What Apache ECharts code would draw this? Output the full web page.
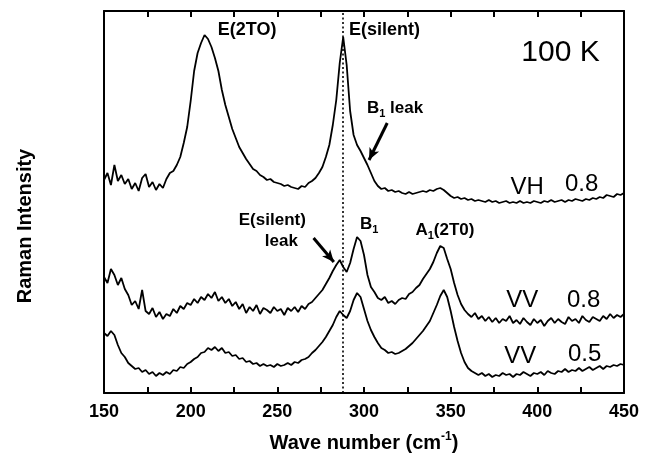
<!DOCTYPE html>
<html><head><meta charset="utf-8">
<script src="https://cdn.jsdelivr.net/npm/echarts@6/dist/echarts.min.js"></script>
<style>html,body{margin:0;padding:0;background:#fff}#c{width:657px;height:465px}</style>
</head><body><div id="c"></div>
<script>
const waveNumbers = [150,152,154,156,158,160,162,164,166,168,170,172,174,176,178,180,182,184,186,188,190,192,194,196,198,200,202,204,206,208,210,212,214,216,218,220,222,224,226,228,230,232,234,236,238,240,242,244,246,248,250,252,254,256,258,260,262,264,266,268,270,272,274,276,278,280,282,284,286,288,290,292,294,296,298,300,302,304,306,308,310,312,314,316,318,320,322,324,326,328,330,332,334,336,338,340,342,344,346,348,350,352,354,356,358,360,362,364,366,368,370,372,374,376,378,380,382,384,386,388,390,392,394,396,398,400,402,404,406,408,410,412,414,416,418,420,422,424,426,428,430,432,434,436,438,440,442,444,446,448,450];

const vhValues = [213,220,208,228,212,218,209,214,204,210,202,215,219,206,211,203,209,205,214,220,222,228,236,250,266,292,322,340,350,358,354,346,335,322,303,288,276,264,255,246,240,234,229,224,222,218,216,213,214,211,210,209,207,208,206,205,204,207,206,210,212,215,220,226,236,248,268,293,330,356,328,282,258,248,242,235,228,220,212,207,204,205,202,203,201,202,200,199,201,199,200,201,202,201,203,202,204,205,203,200,197,195,196,194,195,193,194,192,193,192,191,193,191,192,190,191,192,190,191,190,192,190,191,190,192,191,190,192,191,193,191,192,193,191,193,192,194,193,192,194,193,195,194,196,195,198,197,196,199,198,200];

const vv08Values = [116,110,124,118,108,115,104,98,88,92,84,103,82,79,85,76,81,74,79,77,84,80,87,84,90,88,94,90,96,93,99,95,101,92,96,90,94,87,91,84,89,80,86,82,88,79,85,83,80,86,82,84,78,85,82,86,81,87,84,89,91,95,99,103,109,115,122,128,133,126,121,130,144,156,152,138,118,106,101,95,93,96,90,92,89,93,95,94,99,101,105,108,114,119,124,131,140,147,145,134,124,110,98,89,83,79,76,80,74,77,72,76,71,75,70,74,72,77,70,73,69,75,71,68,74,70,73,67,72,75,70,74,71,69,76,72,74,70,77,73,71,76,74,72,77,74,79,75,78,76,79];

const vv05Values = [60,57,62,58,48,40,36,30,27,24,25,21,23,19,21,17,20,18,21,19,23,22,26,25,29,31,34,36,40,41,45,43,46,42,45,40,41,37,38,34,35,31,32,29,30,27,29,27,28,26,29,27,28,30,28,31,30,33,34,36,40,43,47,51,56,62,68,76,82,78,75,82,93,100,96,84,72,63,56,50,45,43,40,41,39,40,42,44,47,50,54,58,62,67,72,80,88,97,103,96,82,66,52,40,31,25,22,20,18,20,17,19,16,18,17,20,18,19,16,19,18,21,19,17,20,19,21,18,22,20,19,22,21,24,21,23,22,25,22,24,26,23,25,27,24,27,26,28,27,29,28];

const xTicks = [150,200,250,300,350,400,450];
const tickMarks = [175,200,225,250,275,300,325,350,375,400,425];
const dottedLineAt = 288;
const Y_MIN = 0, Y_MAX = 382, TICK_LEN = 6;

const FONT = 'Liberation Sans, Arial, Helvetica, sans-serif';
const chart = echarts.init(document.getElementById('c'));

function pairs(vals){ return waveNumbers.map((x,i)=>[x, vals[i]]); }

const lineBase = {type:'line', showSymbol:false, symbol:'none', animation:false,
  lineStyle:{color:'#000', width:1.8}, itemStyle:{color:'#000'}};

function xAx(pos, labels){
  return {
    type:'value', min:150, max:450, interval:25, position:pos,
    axisLine:{show:true, onZero:false, lineStyle:{color:'#000', width:2}},
    axisTick:{show:false}, minorTick:{show:false}, splitLine:{show:false},
    axisLabel:{show:labels, color:'#000', fontSize:18, fontWeight:'bold', fontFamily:FONT, margin:10,
      formatter:v=> xTicks.includes(v)? String(v):''}
  };
}

const xBottom = xAx('bottom', true);
Object.assign(xBottom, {
  name:'{a|Wave number (cm}{s|-1}{a|)}', nameLocation:'middle', nameGap:38,
  nameTextStyle:{rich:{
    a:{fontSize:20, fontWeight:'bold', fontFamily:FONT, color:'#000', lineHeight:24},
    s:{fontSize:12, fontWeight:'bold', fontFamily:FONT, color:'#000', verticalAlign:'top', lineHeight:24, padding:[0,0,10,0]}
  }}
});

const yLeft = {type:'value', min:Y_MIN, max:Y_MAX, position:'left',
  axisLine:{show:true, lineStyle:{color:'#000', width:2}},
  axisTick:{show:false}, axisLabel:{show:false}, splitLine:{show:false}};
const yRight = Object.assign({}, yLeft, {position:'right'});

// frame ticks drawn as short markLine segments in data coordinates
const tickSegments = [];
tickMarks.forEach(v=>{
  tickSegments.push([{coord:[v, Y_MIN]},{coord:[v, Y_MIN + TICK_LEN]}]);
  tickSegments.push([{coord:[v, Y_MAX]},{coord:[v, Y_MAX - TICK_LEN]}]);
});

chart.setOption({
  animation:false,
  grid:{left:104, right:33, top:11, bottom:72},
  xAxis:[xBottom, xAx('top', false)],
  yAxis:[yLeft, yRight],
  series:[
    Object.assign({}, lineBase, {name:'VH', data:pairs(vhValues),
      markLine:{silent:true, symbol:'none', animation:false, label:{show:false},
        lineStyle:{color:'#000', width:1.6, type:[2,2.5]},
        data:[{xAxis:dottedLineAt}]}}),
    Object.assign({}, lineBase, {name:'VV08', data:pairs(vv08Values),
      markLine:{silent:true, symbol:'none', animation:false, label:{show:false},
        lineStyle:{color:'#000', width:2, type:'solid'},
        data:tickSegments}}),
    Object.assign({}, lineBase, {name:'VV05', data:pairs(vv05Values),
      markLine:{silent:true, animation:false, symbol:['none','arrow'], symbolSize:[8,12],
        label:{show:false}, lineStyle:{color:'#000', width:3, type:'solid'},
        data:[
          [{coord:[313.4,270]},{coord:[302.9,233]}],
          [{coord:[270.9,155]},{coord:[282.6,131]}]
        ]}})
  ]
});

const notes = [
  {at:[232.6,363], text:'{a|E(2TO)}', align:'center'},
  {at:[291.3,363], text:'{a|E(silent)}', align:'left'},
  {at:[413.4,340], text:'{c|100 K}', align:'center'},
  {at:[301.7,285], text:'{d|B}{s|1}{d| leak}', align:'left'},
  {at:[394.2,206], text:'{b|VH}', align:'center'},
  {at:[425.6,209], text:'{b|0.8}', align:'center'},
  {at:[247.1,173], text:'{d|E(silent)}', align:'center'},
  {at:[252.3,152], text:'{d|leak}', align:'center'},
  {at:[297.7,169], text:'{d|B}{s|1}', align:'left'},
  {at:[329.7,163], text:'{d|A}{s|1}{d|(2T0)}', align:'left'},
  {at:[391.3,93], text:'{b|VV}', align:'center'},
  {at:[426.7,93], text:'{b|0.8}', align:'center'},
  {at:[390.1,37], text:'{b|VV}', align:'center'},
  {at:[427.3,39], text:'{b|0.5}', align:'center'}
];
const rich = {
  a:{fontSize:18, fontWeight:'bold', fontFamily:FONT, fill:'#000', color:'#000', lineHeight:22},
  d:{fontSize:17, fontWeight:'bold', fontFamily:FONT, fill:'#000', color:'#000', lineHeight:22},
  b:{fontSize:24, fontFamily:FONT, fill:'#000', color:'#000', lineHeight:28},
  c:{fontSize:30, fontFamily:FONT, fill:'#000', color:'#000', lineHeight:34},
  s:{fontSize:11, fontWeight:'bold', fontFamily:FONT, fill:'#000', color:'#000', lineHeight:22, verticalAlign:'bottom', padding:[9,0,0,0]}
};
const g = notes.map(n=>{
  const p = chart.convertToPixel({xAxisIndex:0, yAxisIndex:0}, n.at);
  return {type:'text', x:p[0], y:p[1], silent:true,
    style:{text:n.text, rich:rich, align:n.align, verticalAlign:'middle', fill:'#000', font:'bold 17px '+FONT}};
});
g.push({type:'text', x:25, y:226, rotation:Math.PI/2, silent:true,
  style:{text:'Raman Intensity', align:'center', verticalAlign:'middle', fill:'#000',
    font:'bold 20px '+FONT}});
chart.setOption({graphic:g});
</script></body></html>
